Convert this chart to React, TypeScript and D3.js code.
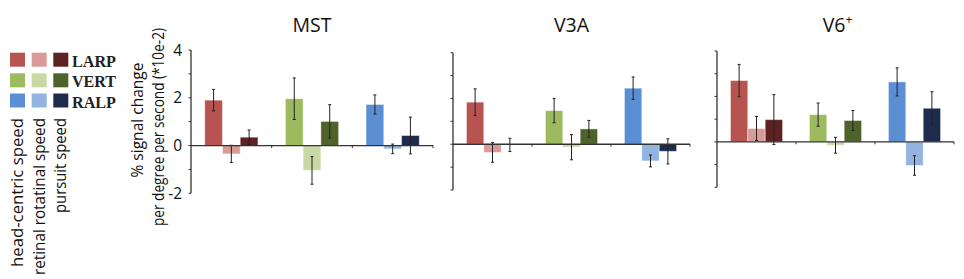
import React from "react";
import * as d3 from "d3";

const regions = ["MST", "V3A", "V6"];
const axisGroups = ["LARP", "VERT", "RALP"];
const speedTypes = ["head-centric speed", "retinal rotatinal speed", "pursuit speed"];
const yTickValues = [-2, -1, 0, 1, 2, 3, 4];
const yTickLabels = [-2, 0, 2, 4];

// values[group][speedType]
const mstValues = [[1.9, -0.35, 0.35], [1.96, -1.04, 1.01], [1.72, -0.14, 0.42]];
const mstErrors = [[0.45, 0.36, 0.3], [0.87, 0.58, 0.7], [0.4, 0.2, 0.77]];
const v3aValues = [[1.84, -0.36, -0.03], [1.47, -0.13, 0.67], [2.45, -0.73, -0.31]];
const v3aErrors = [[0.58, 0.43, 0.29], [0.53, 0.55, 0.37], [0.49, 0.26, 0.55]];
const v6Values = [[2.7, 0.59, 0.98], [1.2, -0.15, 0.94], [2.64, -1.04, 1.48]];
const v6Errors = [[0.71, 0.53, 1.1], [0.51, 0.35, 0.44], [0.62, 0.43, 0.73]];

const panelValues = [mstValues, v3aValues, v6Values];
const panelErrors = [mstErrors, v3aErrors, v6Errors];

const colors = [
  ["#b85450", "#d99a98", "#5e2222"],
  ["#9dbb5e", "#c8d9a4", "#4e6329"],
  ["#5a8fd4", "#93b3e0", "#1d2c4d"],
];

// layout (pixels)
const panels = [
  { x0: 191, x1: 433, top: 50, bottom: 193.3, labels: true },
  { x0: 453, x1: 690, top: 52.7, bottom: 190, labels: false },
  { x0: 717, x1: 954, top: 51, bottom: 187.3, labels: false },
];

const sans = "'Open Sans', 'Liberation Sans', sans-serif";

function Panel({ pi }: { pi: number }) {
  const p = panels[pi];
  const y = d3.scaleLinear().domain([-2, 4]).range([p.bottom, p.top]);
  const x0 = d3.scaleBand<string>().domain(axisGroups).range([p.x0, p.x1]).padding(0);
  const bw = x0.bandwidth();
  const x1 = d3
    .scaleBand<string>()
    .domain(speedTypes)
    .range([bw * 0.17, bw * 0.83])
    .padding(0);
  const vals = panelValues[pi];
  const errs = panelErrors[pi];
  const zero = y(0);
  const title = regions[pi];
  return (
    <g>
      {title === "V6" ? (
        <text x={(p.x0 + p.x1) / 2 + 2} y={31.7} fontFamily={sans} fontSize={19.5} textAnchor="middle" fill="#111">
          V6
          <tspan fontSize={12} dy={-8}>+</tspan>
        </text>
      ) : (
        <text x={(p.x0 + p.x1) / 2} y={31.7} fontFamily={sans} fontSize={19.5} textAnchor="middle" fill="#111">
          {title}
        </text>
      )}
      {axisGroups.map((g, gi) =>
        speedTypes.map((s, si) => {
          const v = vals[gi][si];
          const e = errs[gi][si];
          const bx = (x0(g) as number) + (x1(s) as number);
          const w = x1.bandwidth();
          const yTop = y(Math.max(0, v));
          const yBot = y(Math.min(0, v));
          const cx = bx + w / 2;
          return (
            <g key={g + s}>
              <rect
                x={bx}
                y={yTop}
                width={w}
                height={Math.max(0.5, yBot - yTop)}
                fill={colors[gi][si]}
                stroke="#ffffff"
                strokeOpacity={0.45}
                strokeWidth={1}
              />
              <line x1={cx} x2={cx} y1={y(v + e)} y2={y(v - e)} stroke="#222" strokeWidth={1} />
              <line x1={cx - 1.5} x2={cx + 1.5} y1={y(v + e)} y2={y(v + e)} stroke="#222" strokeWidth={1} />
              <line x1={cx - 1.5} x2={cx + 1.5} y1={y(v - e)} y2={y(v - e)} stroke="#222" strokeWidth={1} />
            </g>
          );
        })
      )}
      {/* y axis */}
      <line x1={p.x0} x2={p.x0} y1={y(4)} y2={y(-2)} stroke="#333" strokeWidth={1.3} />
      {yTickValues.map((t) => (
        <line key={t} x1={p.x0 - 2.5} x2={p.x0} y1={y(t)} y2={y(t)} stroke="#333" strokeWidth={1} />
      ))}
      {p.labels &&
        yTickLabels.map((t) => (
          <text
            key={"l" + t}
            x={182}
            y={y(t)}
            dy="0.36em"
            textAnchor="end"
            fontFamily={sans}
            fontSize={15.5}
            fill="#111"
          >
            {t}
          </text>
        ))}
      {/* x axis */}
      <line x1={p.x0} x2={p.x1} y1={zero} y2={zero} stroke="#333" strokeWidth={1.3} />
      {axisGroups.map((g) => {
        const xe = (x0(g) as number) + bw;
        return <line key={"xt" + g} x1={xe} x2={xe} y1={zero} y2={zero + 2.5} stroke="#333" strokeWidth={1} />;
      })}
    </g>
  );
}

export default function App() {
  const legendX = [10, 31.7, 53.3];
  const legendY = [52.7, 73.3, 93.5];
  const labelX = [23, 44.5, 66];
  const labelLen = [149, 157, 95];
  return (
    <svg width={964} height={279} style={{ display: "block", position: "absolute", left: 0, top: 0 }}>
      <rect width={964} height={279} fill="#fff" />
      {/* legend */}
      {axisGroups.map((g, gi) => (
        <g key={g}>
          {speedTypes.map((s, si) => (
            <rect key={s} x={legendX[si]} y={legendY[gi]} width={15} height={14} fill={colors[gi][si]} />
          ))}
          <text
            x={72}
            y={legendY[gi] + 14}
            fontFamily="'Liberation Serif', 'DejaVu Serif', serif"
            fontWeight="bold"
            fontSize={17}
            textLength={44}
            lengthAdjust="spacingAndGlyphs"
            fill="#222"
          >
            {g}
          </text>
        </g>
      ))}
      {speedTypes.map((s, si) => (
        <text
          key={s}
          transform={`translate(${labelX[si]},118) rotate(-90)`}
          textAnchor="end"
          fontFamily={sans}
          fontSize={16}
          textLength={labelLen[si]}
          lengthAdjust="spacingAndGlyphs"
          fill="#111"
        >
          {s}
        </text>
      ))}
      {/* y axis label */}
      <text
        transform="translate(142.5,120) rotate(-90)"
        textAnchor="middle"
        fontFamily={sans}
        fontSize={16}
        textLength={115}
        lengthAdjust="spacingAndGlyphs"
        fill="#111"
      >
        % signal change
      </text>
      <text
        transform="translate(164,127) rotate(-90)"
        textAnchor="middle"
        fontFamily={sans}
        fontSize={16}
        textLength={198}
        lengthAdjust="spacingAndGlyphs"
        fill="#111"
      >
        per degree per second (*10e-2)
      </text>
      {panels.map((_, pi) => (
        <Panel key={pi} pi={pi} />
      ))}
    </svg>
  );
}
